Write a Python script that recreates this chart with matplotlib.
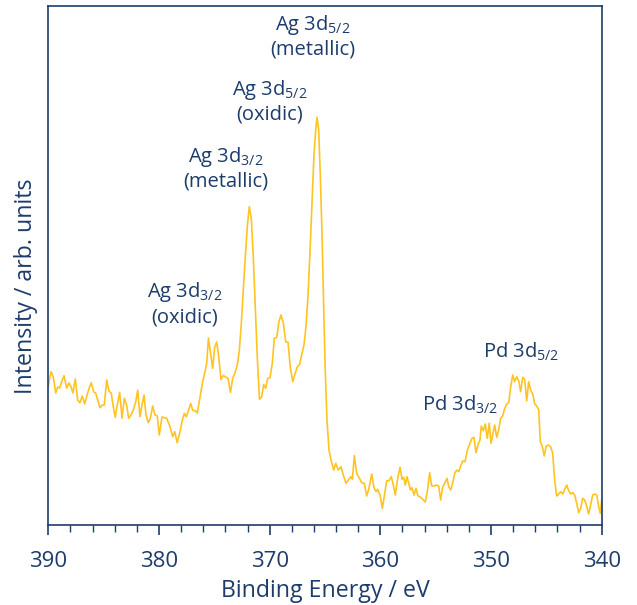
import numpy as np
import matplotlib
matplotlib.use("Agg")
import matplotlib.pyplot as plt

# XPS spectrum, binding energy (eV) and intensity (arb. units)
energy = [
    390.00, 389.76, 389.55, 389.33, 389.15, 388.97, 388.79, 388.58, 388.34, 388.13,
    387.95, 387.77, 387.56, 387.34, 387.14, 386.93, 386.71, 386.50, 386.30, 386.12,
    385.90, 385.72, 385.54, 385.33, 385.12, 384.94, 384.72, 384.52, 384.31, 384.13,
    383.95, 383.77, 383.55, 383.34, 383.13, 382.92, 382.74, 382.53, 382.32, 382.10,
    381.92, 381.72, 381.53, 381.35, 381.17, 380.97, 380.78, 380.57, 380.36, 380.15,
    379.97, 379.73, 379.30, 379.00, 378.76, 378.58, 378.35, 378.10, 377.92, 377.71,
    377.53, 377.33, 377.13, 376.95, 376.75, 376.54, 376.29, 376.05, 375.84, 375.69,
    375.53, 375.35, 375.15, 374.97, 374.79, 374.60, 374.40, 374.19, 373.97, 373.76,
    373.54, 373.34, 373.13, 372.92, 372.74, 372.56, 372.38, 372.20, 372.02, 371.84,
    371.66, 371.48, 371.30, 371.12, 370.92, 370.72, 370.54, 370.36, 370.18, 369.97,
    369.76, 369.58, 369.36, 369.16, 368.98, 368.77, 368.55, 368.34, 368.14, 367.92,
    367.71, 367.50, 367.29, 367.11, 366.90, 366.72, 366.54, 366.36, 366.18, 365.99,
    365.84, 365.72, 365.57, 365.43, 365.27, 365.12, 364.97, 364.82, 364.64, 364.46,
    364.21, 364.03, 363.80, 363.56, 363.35, 363.10, 362.89, 362.68, 362.53, 362.35,
    362.14, 361.90, 361.68, 361.45, 361.23, 361.03, 360.78, 360.57, 360.39, 360.24,
    360.03, 359.82, 359.61, 359.43, 359.22, 359.01, 358.83, 358.65, 358.43, 358.22,
    358.04, 357.89, 357.75, 357.59, 357.44, 357.29, 357.14, 356.96, 356.78, 356.60,
    356.42, 356.17, 355.94, 355.76, 355.54, 355.36, 355.15, 354.91, 354.73, 354.55,
    354.37, 354.16, 353.98, 353.82, 353.64, 353.46, 353.28, 353.10, 352.92, 352.74,
    352.56, 352.35, 352.14, 351.90, 351.72, 351.54, 351.36, 351.18, 351.00, 350.88,
    350.70, 350.52, 350.34, 350.16, 350.00, 349.82, 349.67, 349.49, 349.31, 349.13,
    348.95, 348.76, 348.58, 348.40, 348.22, 348.04, 347.86, 347.68, 347.50, 347.32,
    347.14, 346.96, 346.78, 346.60, 346.42, 346.23, 346.05, 345.87, 345.69, 345.55,
    345.37, 345.19, 345.01, 344.83, 344.61, 344.43, 344.25, 344.07, 343.89, 343.70,
    343.52, 343.34, 343.16, 342.98, 342.80, 342.62, 342.44, 342.26, 342.08, 341.90,
    341.72, 341.54, 341.36, 341.18, 340.99, 340.81, 340.63, 340.45, 340.27, 340.13,
    340.00,
]
intensity = [
    139, 153.3, 148.3, 132, 138, 137, 143.3, 149.3, 137, 142,
    138.3, 132, 146, 125, 122.3, 129, 121, 130, 137, 142.3,
    133, 132, 125, 117.3, 120, 120, 145, 134, 131.7, 118.3,
    107.7, 120, 132.7, 106.7, 126.7, 120, 106.7, 110, 115, 123.3,
    135, 108.3, 120, 130, 110, 102.3, 106.7, 119, 110, 109,
    90, 108, 106.7, 98.3, 88.3, 93.3, 82.3, 93.3, 103.3, 111.7,
    108.3, 114.5, 121.7, 114.5, 114.5, 112, 128, 143.3, 153.3, 161.7,
    187, 173, 156.7, 177.5, 183, 168.3, 145.5, 149.5, 148, 146.7,
    132.5, 146.7, 152.3, 160, 175, 201.7, 235, 268.3, 298.3, 318.3,
    306.7, 268.3, 218.3, 168.3, 125.7, 128.3, 140.5, 136.7, 146.7, 147.3,
    161.7, 186.7, 187.7, 203.3, 210, 202.3, 183.3, 182.7, 158.3, 143.3,
    151, 158.3, 160.7, 170, 180, 198.3, 228.3, 271.7, 321.7, 371.7,
    395, 407.7, 395, 351.7, 291.7, 218.3, 151.7, 105, 75, 65,
    55, 61.7, 55, 58.3, 50, 41.7, 45, 48.3, 45.7, 69.3,
    51.7, 46.7, 42.3, 41.7, 29, 36.7, 51, 37.3, 33.3, 35.7,
    30, 16.7, 31, 44.3, 44.3, 48.3, 40, 30, 46.7, 57.7,
    45.7, 47.7, 40, 48.3, 42.3, 35, 37.3, 30, 36.7, 29,
    28.3, 25.7, 23, 33.3, 52.3, 39, 39, 40, 39, 25,
    37.7, 42.3, 46.7, 38.3, 35, 42.3, 51.7, 55, 53.3, 59,
    64, 63.3, 75, 81.7, 86.7, 87.7, 72.3, 80, 85, 99,
    94.3, 101, 86.7, 101.7, 81.7, 91.7, 100, 87.7, 95, 106.7,
    109, 116.7, 121, 122.3, 138.3, 150, 143.3, 148.3, 144.3, 133.3,
    147.7, 145.7, 124, 143.3, 135, 131, 121, 119, 115, 83.3,
    79, 69, 79, 80, 78.3, 71.7, 45, 29, 31, 33.3,
    31, 35.7, 40, 34.3, 31, 32.3, 30, 21.7, 12.3, 16.7,
    26.7, 25, 19, 11, 21, 30, 31, 30, 18.3, 11.7,
    25,
]

# peak labels: first line, second line, energy, intensity of first line
peak_main = ["Ag 3d$_{5/2}$", "Ag 3d$_{5/2}$", "Ag 3d$_{3/2}$", "Ag 3d$_{3/2}$",
             "Pd 3d$_{3/2}$", "Pd 3d$_{5/2}$"]
peak_sub = ["(metallic)", "(oxidic)", "(metallic)", "(oxidic)", "", ""]
peak_x = [366.1, 370.0, 374.0, 377.65, 352.8, 347.25]
peak_y = [500, 435, 368, 233, 120, 173]

text_col = "#1d3c6c"
line_col = "#ffc322"

plt.rcParams["font.family"] = ["Open Sans", "DejaVu Sans"]
plt.rcParams["mathtext.default"] = "regular"

fig = plt.figure(figsize=(6.37, 6.05), dpi=100)
ax = fig.add_axes([0.0758, 0.1322, 0.8688, 0.8579])

ax.plot(energy, intensity, color=line_col, lw=1.2)

ax.set_xlim(390, 340)
ax.set_ylim(0, 519)
ax.set_xticks(np.arange(340, 391, 10))
ax.set_xticks(np.arange(340, 391, 2), minor=True)
ax.set_yticks([])
ax.tick_params(axis="x", which="major", direction="out", length=7.5, width=1.2,
               color=text_col, labelsize=16, labelcolor=text_col, pad=11)
ax.tick_params(axis="x", which="minor", direction="out", length=5, width=1.0,
               color=text_col)
for s in ax.spines.values():
    s.set_color(text_col)
    s.set_linewidth(1.2)

ax.set_xlabel("Binding Energy / eV", fontsize=16.7, color=text_col, labelpad=5)
ax.set_ylabel("Intensity / arb. units", fontsize=16.7, color=text_col)
ax.yaxis.set_label_coords(-0.019, 0.46)

for main, sub, x, y in zip(peak_main, peak_sub, peak_x, peak_y):
    ax.text(x, y, main, ha="center", va="center", fontsize=14.5, color=text_col)
    if sub:
        ax.text(x, y - 25, sub, ha="center", va="center", fontsize=14.5, color=text_col)

fig.savefig("out.png", dpi=100)
